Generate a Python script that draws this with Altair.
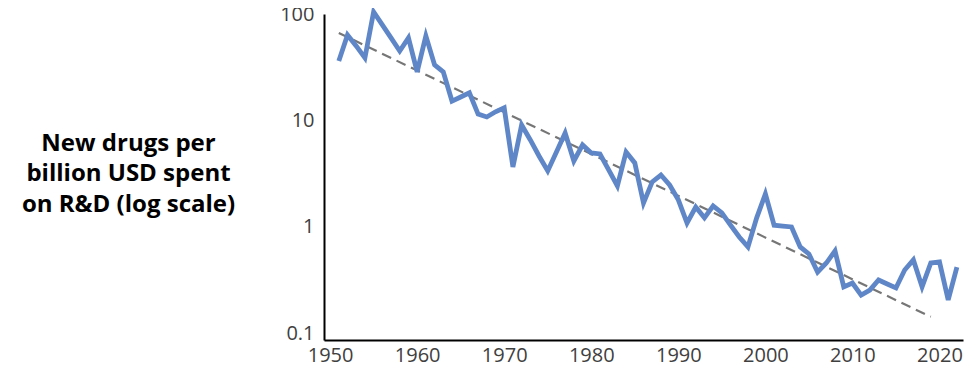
import altair as alt
import pandas as pd

years = list(range(1951, 2023))
drugs_per_billion = [
    36.8, 64.8, 51.0, 39.3, 106.7, 80.5, 60.7, 45.7, 60.7, 29.0,
    63.4, 33.8, 29.0, 15.4, 16.8, 18.4, 11.6, 10.9, 12.2, 13.3,
    3.68, 9.17, 6.62, 4.67, 3.38, 5.10, 7.70, 4.19, 5.94, 4.99,
    4.88, 3.45, 2.44, 5.10, 4.02, 1.68, 2.66, 3.09, 2.49, 1.80,
    1.09, 1.54, 1.22, 1.58, 1.36, 1.04, 0.805, 0.648, 1.22, 2.05,
    1.04, 1.02, 1.00, 0.648, 0.556, 0.376, 0.457, 0.594, 0.272, 0.296,
    0.228, 0.254, 0.316, 0.290, 0.266, 0.393, 0.489, 0.272, 0.457, 0.468,
    0.205, 0.419,
]
trend_years = [1951, 2019]
trend_values = [67.6, 0.142]
x_ticks = [1950, 1960, 1970, 1980, 1990, 2000, 2010, 2020]
y_ticks = [0.1, 1, 10, 100]

df = pd.DataFrame({"year": years, "value": drugs_per_billion})
tdf = pd.DataFrame({"year": trend_years, "value": trend_values})

FONT = "Open Sans"

xscale = alt.Scale(domain=[1949.3, 2022.7], nice=False, zero=False)
yscale = alt.Scale(type="log", domain=[0.0859, 102.0], nice=False)

x_axis = alt.Axis(
    values=x_ticks, format="d", title=None, grid=False, ticks=False,
    domainColor="black", domainWidth=2, labelFontSize=20, labelColor="#404040",
    labelFont=FONT, labelPadding=5,
)
y_axis = alt.Axis(
    values=y_ticks, format="~g", grid=False, ticks=False,
    domainColor="black", domainWidth=2, labelFontSize=20, labelColor="#404040",
    labelFont=FONT, labelPadding=10,
    title=["New drugs per", "billion USD spent", "on R&D (log scale)"],
    titleAngle=0, titleAlign="center", titleBaseline="middle",
    titleX=-196, titleY=129, titleFontSize=24, titleFontWeight="bold",
    titleFont=FONT, titleColor="black", titleLineHeight=30.5,
)

line = alt.Chart(df).mark_line(color="#5F87C8", strokeWidth=4.8, strokeJoin="miter").encode(
    x=alt.X("year:Q", scale=xscale, axis=x_axis),
    y=alt.Y("value:Q", scale=yscale, axis=y_axis),
)

trend = alt.Chart(tdf).mark_line(color="#767676", strokeWidth=2.2, strokeDash=[10, 6]).encode(
    x=alt.X("year:Q", scale=xscale),
    y=alt.Y("value:Q", scale=yscale),
)

chart = alt.layer(trend, line).properties(
    width=639, height=326,
    autosize="none",
    padding={"left": 316, "top": 6, "right": 4, "bottom": 31},
).configure_view(stroke=None)

chart.save("out.html", embed_options={"renderer": "svg", "actions": False})
